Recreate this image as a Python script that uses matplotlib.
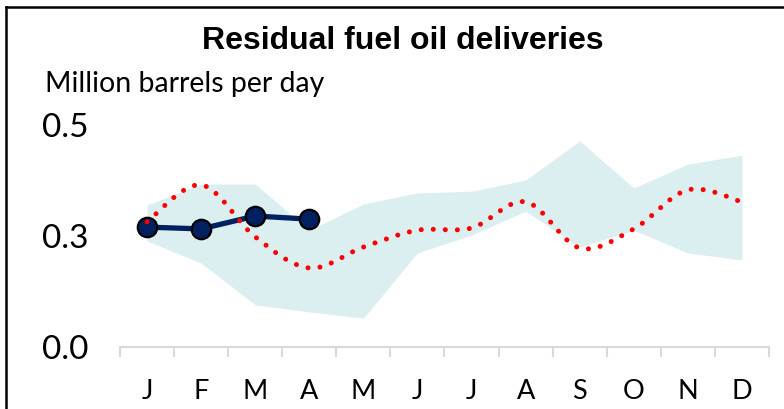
import matplotlib.pyplot as plt
from matplotlib.path import Path
from matplotlib.patches import PathPatch
from matplotlib.lines import Line2D

months = ['J', 'F', 'M', 'A', 'M', 'J', 'J', 'A', 'S', 'O', 'N', 'D']
# five-year range (band)
range_low = [0.239, 0.189, 0.095, 0.079, 0.065, 0.212, 0.252, 0.306, 0.225, 0.263, 0.212, 0.196]
range_high = [0.320, 0.367, 0.367, 0.263, 0.322, 0.347, 0.351, 0.376, 0.464, 0.358, 0.412, 0.432]
# five-year average (red dotted, smoothed)
avg = [0.282, 0.365, 0.248, 0.178, 0.225, 0.263, 0.268, 0.327, 0.223, 0.266, 0.354, 0.327]
# current year
current = [0.270, 0.266, 0.295, 0.288]
y_ticks = [0.0, 0.25, 0.5]
y_labels = ['0.0', '0.3', '0.5']

W, H = 784, 409
fig = plt.figure(figsize=(W / 100, H / 100), dpi=100)
ax = fig.add_axes([120 / W, (H - 347) / H, 649 / W, 0.55 * 444 / H])

x = list(range(12))
ax.fill_between(x, range_low, range_high, color='#dbeef0', linewidth=0, zorder=1)

# smoothed curve like Excel (Catmull-Rom as cubic Bezier)
pts = list(zip(x, avg))
verts = [pts[0]]
codes = [Path.MOVETO]
for i in range(len(pts) - 1):
    p0 = pts[i - 1] if i > 0 else pts[i]
    p1 = pts[i]
    p2 = pts[i + 1]
    p3 = pts[i + 2] if i + 2 < len(pts) else pts[i + 1]
    c1 = (p1[0] + (p2[0] - p0[0]) / 6, p1[1] + (p2[1] - p0[1]) / 6)
    c2 = (p2[0] - (p3[0] - p1[0]) / 6, p2[1] - (p3[1] - p1[1]) / 6)
    verts += [c1, c2, p2]
    codes += [Path.CURVE4] * 3

ax.plot(range(len(current)), current, color='#002060', linewidth=3.8, marker='o',
        markersize=14, markerfacecolor='#002060', markeredgecolor='black',
        markeredgewidth=1.6, zorder=3)
ax.add_patch(PathPatch(Path(verts, codes), fill=False, edgecolor='#ff0000',
                       linewidth=3.6, linestyle=(0, (0.01, 2.4)), capstyle='round', zorder=4))

ax.set_xlim(-0.5, 11.5)
ax.set_ylim(0, 0.55)
for s in ['top', 'right', 'left']:
    ax.spines[s].set_visible(False)
ax.spines['bottom'].set_color('#d9d9d9')
ax.spines['bottom'].set_linewidth(1.5)

ax.set_xticks(x)
ax.set_xticklabels(months, fontsize=19.5, family='Lato')
ax.set_xticks([i - 0.5 for i in range(13)], minor=True)
ax.tick_params(axis='x', which='major', length=0, pad=23)
ax.tick_params(axis='x', which='minor', length=7, width=1.5, color='#d9d9d9', direction='out')
ax.set_yticks(y_ticks)
ax.set_yticklabels(y_labels, fontsize=24, family='Lato')
ax.tick_params(axis='y', length=0, pad=23)

fig.text(403 / W, 1 - 41 / H, 'Residual fuel oil deliveries', ha='center', va='center',
         fontsize=23, fontweight='bold', family='Liberation Sans')
fig.text(45 / W, 1 - 84 / H, 'Million barrels per day', ha='left', va='center',
         fontsize=20.5, family='Lato')

# outer frame (top and left edges visible)
fig.add_artist(Line2D([6 / W, 1], [1 - 7 / H, 1 - 7 / H], color='black', linewidth=1.8))
fig.add_artist(Line2D([6 / W, 6 / W], [0, 1 - 7 / H], color='black', linewidth=1.8))

fig.savefig('out.png', dpi=100)
